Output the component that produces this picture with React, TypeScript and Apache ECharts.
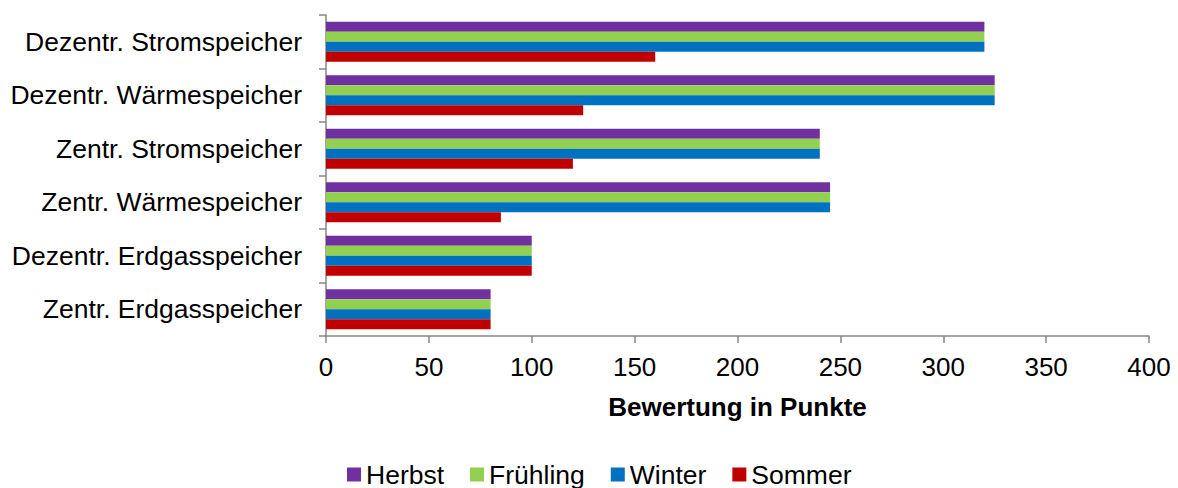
import React, { useEffect, useRef } from "react";
import * as echarts from "echarts";

const categories = [
  "Dezentr. Stromspeicher",
  "Dezentr. Wärmespeicher",
  "Zentr. Stromspeicher",
  "Zentr. Wärmespeicher",
  "Dezentr. Erdgasspeicher",
  "Zentr. Erdgasspeicher",
];
const herbst = [320, 325, 240, 245, 100, 80];
const fruehling = [320, 325, 240, 245, 100, 80];
const winter = [320, 325, 240, 245, 100, 80];
const sommer = [160, 125, 120, 85, 100, 80];
const xTicks = [0, 50, 100, 150, 200, 250, 300, 350, 400];

const seriesDefs = [
  { name: "Herbst", data: herbst, color: "#7030A0" },
  { name: "Frühling", data: fruehling, color: "#92D050" },
  { name: "Winter", data: winter, color: "#0070C0" },
  { name: "Sommer", data: sommer, color: "#C00000" },
];

const FONT = "'Liberation Sans', Arial, sans-serif";

export default function App() {
  const ref = useRef<HTMLDivElement>(null);
  useEffect(() => {
    const chart = echarts.init(ref.current!, null, { renderer: "svg" });
    chart.setOption({
      animation: false,
      textStyle: { fontFamily: FONT },
      grid: { left: 326, right: 29, top: 15, bottom: 152, containLabel: false },
      legend: {
        top: 456,
        left: 342,
        itemWidth: 14,
        itemHeight: 14,
        itemGap: 26,
        icon: "rect",
        textStyle: { fontSize: 26.5, color: "#000", fontFamily: FONT },
        data: seriesDefs.map((s) => s.name),
      },
      xAxis: {
        type: "value",
        min: xTicks[0],
        max: xTicks[xTicks.length - 1],
        interval: 50,
        name: "Bewertung in Punkte",
        nameLocation: "middle",
        nameGap: 58,
        nameTextStyle: { fontSize: 26, fontWeight: "bold", color: "#000", fontFamily: FONT },
        axisLine: { show: true, lineStyle: { color: "#868686", width: 1.5 } },
        axisTick: { show: true, length: 7, lineStyle: { color: "#868686", width: 1.5 } },
        axisLabel: { fontSize: 26, color: "#000", margin: 18, fontFamily: FONT },
        splitLine: { show: false },
      },
      yAxis: {
        type: "category",
        inverse: true,
        data: categories,
        axisLine: { show: true, lineStyle: { color: "#868686", width: 1.5 } },
        axisTick: { show: true, length: 7, lineStyle: { color: "#868686", width: 1.5 } },
        axisLabel: { fontSize: 26.5, color: "#000", margin: 24, fontFamily: FONT },
        splitLine: { show: false },
      },
      series: seriesDefs.map((s) => ({
        type: "bar",
        name: s.name,
        data: s.data,
        itemStyle: { color: s.color },
        barGap: "0%",
        barCategoryGap: "25%",
      })),
    });
    return () => chart.dispose();
  }, []);
  return <div ref={ref} style={{ width: 1178, height: 488, marginLeft: -8, marginTop: -8 }} />;
}
